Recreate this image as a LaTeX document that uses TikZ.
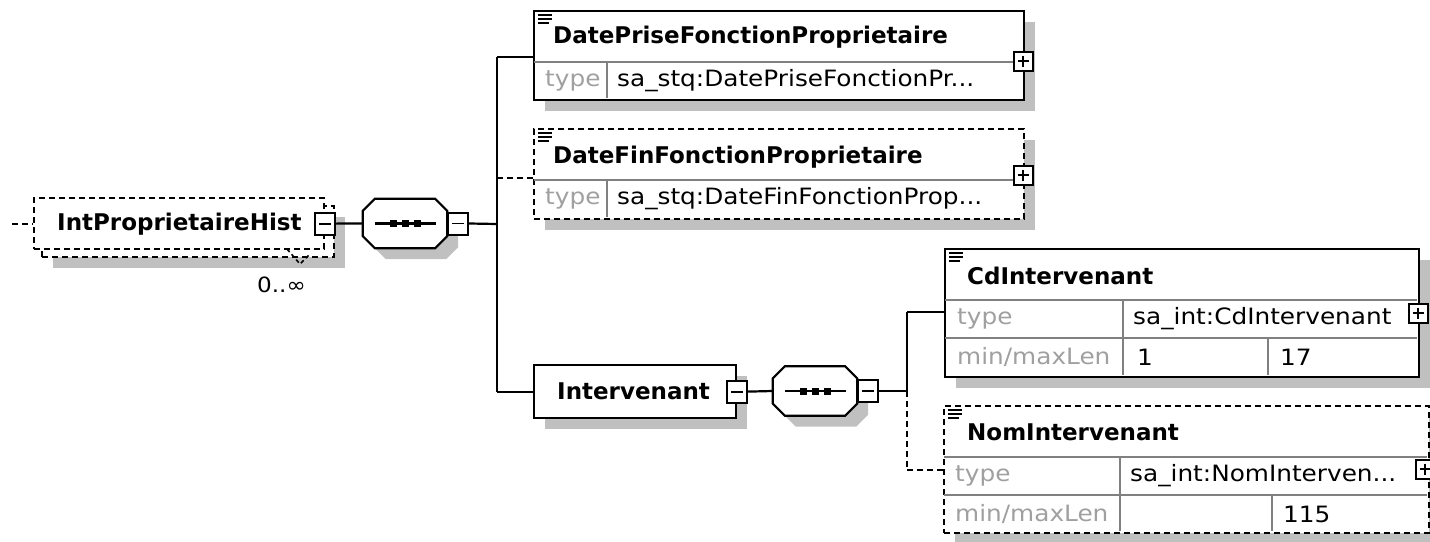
\documentclass[tikz,border=0pt]{standalone}
\usepackage{fontspec}
\setmainfont{DejaVu Sans}
\newfontfamily\lblfont[FakeStretch=1.1]{DejaVu Sans}
\usetikzlibrary{shadows}
\definecolor{shadowgray}{RGB}{192,192,192}
\definecolor{labelgray}{RGB}{160,160,160}
\definecolor{divgray}{RGB}{128,128,128}
\tikzset{
  doc/.pic={\draw[line width=1.6pt] (0,0)--(14,0) (0,4)--(14,4) (0,8)--(11,8);}
}
% octagon (sequence compositor) round node #1, shifted by #2,#3
\newcommand\octpath[3]{([xshift=#2+12pt,yshift=#3]#1.north west) -- ([xshift=#2-12pt,yshift=#3]#1.north east) -- ([xshift=#2,yshift=#3-12pt]#1.north east) -- ([xshift=#2,yshift=#3+12pt]#1.south east) -- ([xshift=#2-12pt,yshift=#3]#1.south east) -- ([xshift=#2+12pt,yshift=#3]#1.south west) -- ([xshift=#2,yshift=#3+12pt]#1.south west) -- ([xshift=#2,yshift=#3-12pt]#1.north west) -- cycle}
\begin{document}
\begin{tikzpicture}[x=1pt,y=-1pt,
  sh/.style={drop shadow={shadow xshift=11pt,shadow yshift=-11pt,fill=shadowgray,opacity=1,draw=none}},
  plainbox/.style={draw, fill=white, line width=2.2pt, inner sep=0, anchor=north west},
  box/.style={plainbox, sh},
  optbox/.style={box, dash pattern=on 6pt off 4pt},
  conn/.style={line width=2.2pt},
  optconn/.style={conn, dash pattern=on 6pt off 4pt},
  divider/.style={line width=1.8pt, draw=divgray},
  title/.style={font=\fontsize{23}{27}\selectfont\bfseries, anchor=west, inner sep=0},
  val/.style={font=\lblfont\fontsize{22.5}{27}\selectfont, anchor=west, inner sep=0},
  key/.style={val, text=labelgray},
  tog/.style={draw, fill=white, line width=2pt, minimum width=20pt, minimum height=22pt, inner sep=0},
  minus/.style={tog, path picture={\draw[line width=1.8pt] ([xshift=4pt]path picture bounding box.west) -- ([xshift=-4pt]path picture bounding box.east);}},
  plus/.style={tog, minimum width=19pt, minimum height=19pt, path picture={\draw[line width=1.8pt] ([xshift=4pt]path picture bounding box.west) -- ([xshift=-4pt]path picture bounding box.east) ([yshift=-4pt]path picture bounding box.north) -- ([yshift=4pt]path picture bounding box.south);}},
  seq/.style={rectangle, draw=none, minimum width=84pt, minimum height=49pt, inner sep=0},
]
\useasboundingbox (0,0) rectangle (1430,541);
\clip (0,0) rectangle (1430,541);

% ---- root element IntProprietaireHist (0..inf)
\node[optbox, minimum width=292pt, minimum height=51pt] (ipb) at (41,205) {};
\node[plainbox, dash pattern=on 6pt off 4pt, minimum width=290pt, minimum height=51pt] (ip) at (33,197) {};
\node[title] (ipt) at (57,224) {IntProprietaireHist};
\node[minus] (t0) at (ip.east) {};
\coordinate (in) at (12,224);
\draw[optconn] (in) -- (in -| ip.west);
\draw[line width=1.6pt, dash pattern=on 4pt off 3pt] (287,249) -- (300,264) -- (309,255);
\node[font=\lblfont\fontsize{21}{24}\selectfont, anchor=west, inner sep=0] (occ) at (257,285) {0..∞};

% ---- sequence 1
\node[seq] (s1) at (405,223.5) {};
\fill[shadowgray] \octpath{s1}{11pt}{-11pt};
\draw[conn, fill=white] \octpath{s1}{0pt}{0pt};
\draw[conn] ([xshift=-30pt]s1.center) -- ([xshift=31pt]s1.center);
\foreach \dx in {-12,0,12} \fill ([xshift=\dx pt]s1.center) +(-3.5,-3.5) rectangle +(3.5,3.5);
\node[minus, anchor=west] (t1) at (s1.east) {};
\draw[conn] (t0.east) -- (s1.west);

\coordinate (b1) at (497,224);
\coordinate (b1t) at (497,57);
\coordinate (b1m) at (497,178);
\coordinate (b1b) at (497,392);

% ---- DatePriseFonctionProprietaire
\node[box, minimum width=490pt, minimum height=89pt] (dp) at (533,10) {};
\draw[divider] (534,62) -- (1022,62) (607,62) -- (607,98);
\pic at (538,15) {doc};
\node[title] (dpt) at (553,37) {DatePriseFonctionProprietaire};
\node[key] (dpk) at (545,81) {type};
\node[val] (dpv) at (617,81) {sa\_stq:DatePriseFonctionPr...};
\node[plus] (dpp) at (1023,61) {};

% ---- DateFinFonctionProprietaire
\node[optbox, minimum width=490pt, minimum height=90pt] (df) at (533,128) {};
\draw[divider] (534,180) -- (1022,180) (607,180) -- (607,217);
\pic at (538,133) {doc};
\node[title] (dft) at (553,157) {DateFinFonctionProprietaire};
\node[key] (dfk) at (545,199) {type};
\node[val] (dfv) at (617,199) {sa\_stq:DateFinFonctionProp...};
\node[plus] (dfp) at (1023,175) {};

% ---- Intervenant
\node[box, minimum width=202pt, minimum height=53pt] (iv) at (533,364) {};
\node[title] (ivt) at (557,391) {Intervenant};
\node[minus] (t2) at (iv.east) {};

\draw[conn] (t1.east) -- (b1);
\draw[conn] (b1t) -- (b1b);
\draw[conn] (b1t) -- (b1t -| dp.west);
\draw[optconn] (b1m) -- (b1m -| df.west);
\draw[conn] (b1b) -- (b1b -| iv.west);

% ---- sequence 2
\node[seq] (s2) at (815,391) {};
\fill[shadowgray] \octpath{s2}{11pt}{-11pt};
\draw[conn, fill=white] \octpath{s2}{0pt}{0pt};
\draw[conn] ([xshift=-30pt]s2.center) -- ([xshift=31pt]s2.center);
\foreach \dx in {-12,0,12} \fill ([xshift=\dx pt]s2.center) +(-3.5,-3.5) rectangle +(3.5,3.5);
\node[minus, anchor=west] (t3) at (s2.east) {};
\draw[conn] (t2.east) -- (s2.west);

\coordinate (b2) at (907,391);
\coordinate (b2t) at (907,312);
\coordinate (b2b) at (907,470);

% ---- CdIntervenant
\node[box, minimum width=474pt, minimum height=128pt] (cd) at (944,248) {};
\draw[divider] (945,300) -- (1417,300) (945,338) -- (1417,338) (1123,300) -- (1123,375) (1268,338) -- (1268,375);
\pic at (949,253) {doc};
\node[title] (cdt) at (967,276) {CdIntervenant};
\node[key] (cdk1) at (957,319) {type};
\node[val] (cdv1) at (1133,319) {sa\_int:CdIntervenant};
\node[key] (cdk2) at (957,357) {min/maxLen};
\node[val] (cdv2) at (1137,357) {1};
\node[val] (cdv3) at (1280,357) {17};
\node[plus] (cdp) at (1418,313) {};

% ---- NomIntervenant
\node[optbox, minimum width=485pt, minimum height=127pt] (ni) at (943,405) {};
\draw[divider] (944,457) -- (1427,457) (944,495) -- (1427,495) (1120,457) -- (1120,531) (1272,495) -- (1272,531);
\pic at (948,410) {doc};
\node[title] (nit) at (967,432) {NomIntervenant};
\node[key] (nik1) at (955,476) {type};
\node[val] (niv1) at (1130,476) {sa\_int:NomInterven...};
\node[key] (nik2) at (955,514) {min/maxLen};
\node[val] (niv2) at (1283,514) {115};
\node[plus] (nip) at (1425,469) {};

\draw[conn] (t3.east) -- (b2);
\draw[conn] (b2t) -- (b2);
\draw[optconn] (b2) -- (b2b);
\draw[conn] (b2t) -- (b2t -| cd.west);
\draw[optconn] (b2b) -- (b2b -| ni.west);
\end{tikzpicture}
\end{document}
